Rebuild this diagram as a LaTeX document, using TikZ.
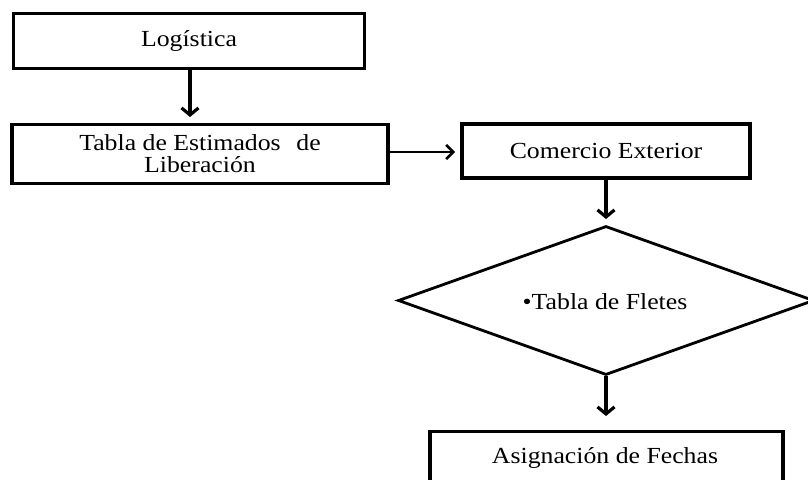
\documentclass[tikz,border=0pt]{standalone}
\usepackage{fontspec}
\setmainfont{Liberation Serif}[FakeStretch=1.12]
\usetikzlibrary{shapes.geometric,arrows.meta}
\begin{document}
\begin{tikzpicture}[x=1pt,y=-1pt,
  box/.style={draw,line width=3.3pt,inner sep=0pt,align=center,font=\fontsize{23}{22}\selectfont},
  dia/.style={draw,diamond,line width=2.8pt,inner sep=0pt,font=\fontsize{23}{22}\selectfont},
  arr/.style={line width=3.4pt,-{Straight Barb[length=7pt,width=17pt,line width=3.2pt]}},
  harr/.style={line width=2.6pt,-{Straight Barb[length=7pt,width=14pt,line width=2.6pt]}}]
\useasboundingbox (0,0) rectangle (808,479);
\clip (0,0) rectangle (808,479);
\node[box,minimum width=351pt,minimum height=55pt] (log) at (189,41) {Logística};
\node[box,minimum width=376pt,minimum height=59pt] (tab) at (200,154) {Tabla de Estimados\hspace{0.4em} de\\Liberación};
\node[box,minimum width=288pt,minimum height=54pt] (com) at (606,151) {Comercio Exterior};
\node[dia,minimum width=416pt,minimum height=149pt] (fle) at (606,300.5) {};
\node[font=\fontsize{23}{22}\selectfont] (flt) at (605,302) {\textbullet Tabla de Fletes};
\node[box,minimum width=353pt,minimum height=80pt,anchor=north] (asi) at (606.5,430) {};
\node[font=\fontsize{23}{22}\selectfont] (ast) at (605,458) {Asignación de Fechas};
\draw[arr] (log.south -| 190,0) -- (190,117);
\draw[harr] (tab.east |- 0,152) -- (455,152);
\draw[arr] (com.south -| fle.north) -- (fle.north |- 0,219);
\draw[arr] (fle.south) -- (fle.south |- 0,416);
\end{tikzpicture}
\end{document}
